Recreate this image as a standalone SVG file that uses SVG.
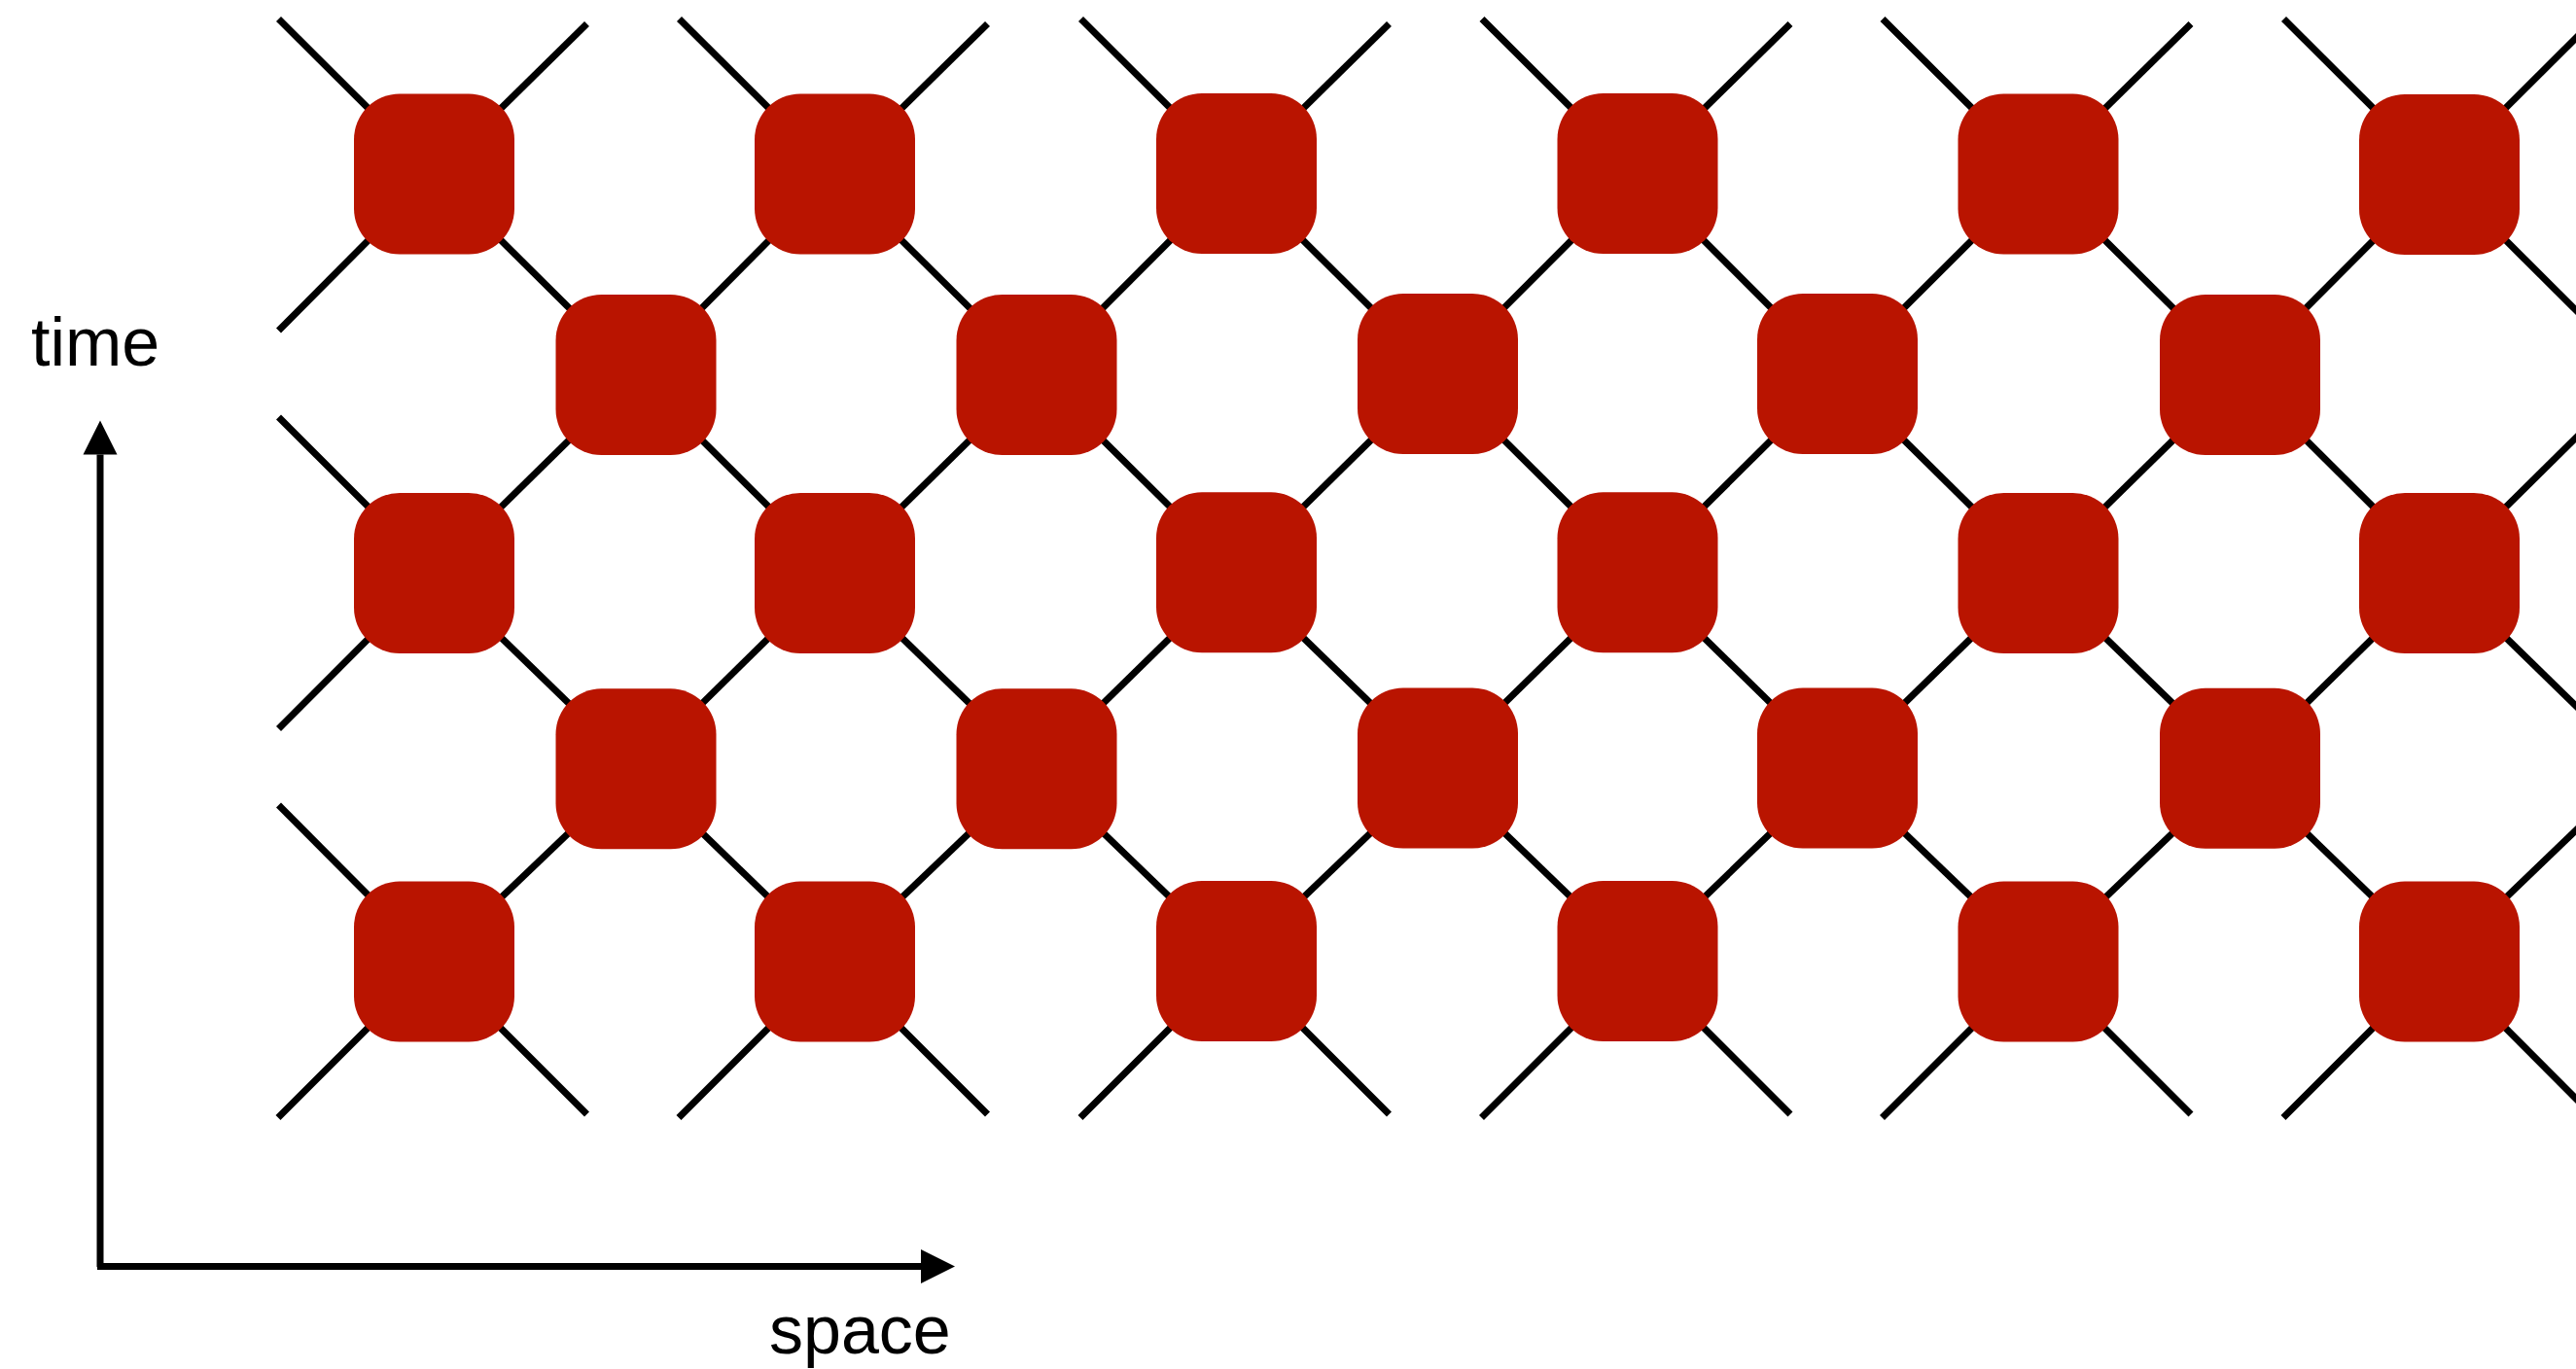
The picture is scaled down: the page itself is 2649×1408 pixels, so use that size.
<svg xmlns="http://www.w3.org/2000/svg" width="2649" height="1408" viewBox="0 0 2649 1408">
<style>
.c{stroke:#000;stroke-width:7;fill:none;stroke-linecap:butt}
.n{fill:#B91400}
.t{font-family:"Liberation Sans",Arial,Helvetica,sans-serif;font-size:70px;fill:#000}
</style>
<defs>
<marker id="ah" markerUnits="userSpaceOnUse" markerWidth="36" markerHeight="36" refX="0" refY="17.5" orient="auto" viewBox="0 0 36 35">
<path d="M0,0 L35,17.5 L0,35 Z" fill="#000"/>
</marker>
<rect id="node" x="-82.5" y="-82.5" width="165" height="165" rx="47" ry="47"/>
</defs>
<rect width="2649" height="1408" fill="#fff"/>
<g id="connectors" class="c">
<!-- top stubs -->
<line x1="446.5" y1="179" x2="286.5" y2="19.5"/><line x1="446.5" y1="179" x2="603.5" y2="24.5"/>
<line x1="858.5" y1="179" x2="698.5" y2="19.5"/><line x1="858.5" y1="179" x2="1015.5" y2="24.5"/>
<line x1="1271.5" y1="179" x2="1111.5" y2="19.5"/><line x1="1271.5" y1="179" x2="1428.5" y2="24.5"/>
<line x1="1684" y1="179" x2="1524" y2="19.5"/><line x1="1684" y1="179" x2="1841" y2="24.5"/>
<line x1="2096" y1="179" x2="1936" y2="19.5"/><line x1="2096" y1="179" x2="2253" y2="24.5"/>
<line x1="2508.5" y1="179" x2="2348.5" y2="19.5"/><line x1="2508.5" y1="179" x2="2668.5" y2="19.5"/>
<!-- bottom stubs -->
<line x1="446.5" y1="989" x2="286" y2="1149.5"/><line x1="446.5" y1="989" x2="603.5" y2="1146"/>
<line x1="858.5" y1="989" x2="698" y2="1149.5"/><line x1="858.5" y1="989" x2="1015.5" y2="1146"/>
<line x1="1271.5" y1="989" x2="1111" y2="1149.5"/><line x1="1271.5" y1="989" x2="1428.5" y2="1146"/>
<line x1="1684" y1="989" x2="1523.5" y2="1149.5"/><line x1="1684" y1="989" x2="1841" y2="1146"/>
<line x1="2096" y1="989" x2="1935.5" y2="1149.5"/><line x1="2096" y1="989" x2="2253" y2="1146"/>
<line x1="2508.5" y1="989" x2="2348" y2="1149.5"/><line x1="2508.5" y1="989" x2="2668.5" y2="1149.5"/>
<!-- left stubs -->
<line x1="446.5" y1="179" x2="286.5" y2="340"/>
<line x1="446.5" y1="589" x2="286.5" y2="429"/>
<line x1="446.5" y1="589" x2="286.5" y2="749.5"/>
<line x1="446.5" y1="989" x2="286.5" y2="828"/>
<!-- right edge -->
<line x1="2508.5" y1="179" x2="2715" y2="385"/>
<line x1="2508.5" y1="589" x2="2715" y2="385"/>
<line x1="2508.5" y1="589" x2="2715" y2="790.5"/>
<line x1="2508.5" y1="989" x2="2715" y2="790.5"/>
<!-- row 2 links -->
<line x1="654" y1="385" x2="446.5" y2="179"/><line x1="654" y1="385" x2="858.5" y2="179"/><line x1="654" y1="385" x2="446.5" y2="589"/><line x1="654" y1="385" x2="858.5" y2="589"/>
<line x1="1066" y1="385" x2="858.5" y2="179"/><line x1="1066" y1="385" x2="1271.5" y2="179"/><line x1="1066" y1="385" x2="858.5" y2="589"/><line x1="1066" y1="385" x2="1271.5" y2="589"/>
<line x1="1478.5" y1="385" x2="1271.5" y2="179"/><line x1="1478.5" y1="385" x2="1684" y2="179"/><line x1="1478.5" y1="385" x2="1271.5" y2="589"/><line x1="1478.5" y1="385" x2="1684" y2="589"/>
<line x1="1889.5" y1="385" x2="1684" y2="179"/><line x1="1889.5" y1="385" x2="2096" y2="179"/><line x1="1889.5" y1="385" x2="1684" y2="589"/><line x1="1889.5" y1="385" x2="2096" y2="589"/>
<line x1="2303.5" y1="385" x2="2096" y2="179"/><line x1="2303.5" y1="385" x2="2508.5" y2="179"/><line x1="2303.5" y1="385" x2="2096" y2="589"/><line x1="2303.5" y1="385" x2="2508.5" y2="589"/>
<!-- row 4 links -->
<line x1="654" y1="790.5" x2="446.5" y2="589"/><line x1="654" y1="790.5" x2="858.5" y2="589"/><line x1="654" y1="790.5" x2="446.5" y2="989"/><line x1="654" y1="790.5" x2="858.5" y2="989"/>
<line x1="1066" y1="790.5" x2="858.5" y2="589"/><line x1="1066" y1="790.5" x2="1271.5" y2="589"/><line x1="1066" y1="790.5" x2="858.5" y2="989"/><line x1="1066" y1="790.5" x2="1271.5" y2="989"/>
<line x1="1478.5" y1="790.5" x2="1271.5" y2="589"/><line x1="1478.5" y1="790.5" x2="1684" y2="589"/><line x1="1478.5" y1="790.5" x2="1271.5" y2="989"/><line x1="1478.5" y1="790.5" x2="1684" y2="989"/>
<line x1="1889.5" y1="790.5" x2="1684" y2="589"/><line x1="1889.5" y1="790.5" x2="2096" y2="589"/><line x1="1889.5" y1="790.5" x2="1684" y2="989"/><line x1="1889.5" y1="790.5" x2="2096" y2="989"/>
<line x1="2303.5" y1="790.5" x2="2096" y2="589"/><line x1="2303.5" y1="790.5" x2="2508.5" y2="589"/><line x1="2303.5" y1="790.5" x2="2096" y2="989"/><line x1="2303.5" y1="790.5" x2="2508.5" y2="989"/>
</g>
<g id="nodes" class="n">
<use id="n1-1" href="#node" x="446.5" y="179"/>
<use id="n1-2" href="#node" x="858.5" y="179"/>
<use id="n1-3" href="#node" x="1271.5" y="178.5"/>
<use id="n1-4" href="#node" x="1684" y="178.5"/>
<use id="n1-5" href="#node" x="2096" y="179"/>
<use id="n1-6" href="#node" x="2508.5" y="179.5"/>
<use id="n2-1" href="#node" x="654" y="385.5"/>
<use id="n2-2" href="#node" x="1066" y="385.5"/>
<use id="n2-3" href="#node" x="1478.5" y="384.5"/>
<use id="n2-4" href="#node" x="1889.5" y="384.5"/>
<use id="n2-5" href="#node" x="2303.5" y="385.5"/>
<use id="n3-1" href="#node" x="446.5" y="589.5"/>
<use id="n3-2" href="#node" x="858.5" y="589.5"/>
<use id="n3-3" href="#node" x="1271.5" y="588.8"/>
<use id="n3-4" href="#node" x="1684" y="588.8"/>
<use id="n3-5" href="#node" x="2096" y="589.5"/>
<use id="n3-6" href="#node" x="2508.5" y="589.5"/>
<use id="n4-1" href="#node" x="654" y="790.8"/>
<use id="n4-2" href="#node" x="1066" y="790.8"/>
<use id="n4-3" href="#node" x="1478.5" y="790"/>
<use id="n4-4" href="#node" x="1889.5" y="790"/>
<use id="n4-5" href="#node" x="2303.5" y="790.3"/>
<use id="n5-1" href="#node" x="446.5" y="989"/>
<use id="n5-2" href="#node" x="858.5" y="989"/>
<use id="n5-3" href="#node" x="1271.5" y="988.5"/>
<use id="n5-4" href="#node" x="1684" y="988.5"/>
<use id="n5-5" href="#node" x="2096" y="989"/>
<use id="n5-6" href="#node" x="2508.5" y="989"/>
</g>
<g id="axes" class="c">
<line x1="103" y1="1303" x2="103" y2="467.5" marker-end="url(#ah)"/>
<line x1="100" y1="1302.5" x2="947" y2="1302.5" marker-end="url(#ah)"/>
</g>
<g id="labels" class="t">
<text x="32" y="376">time</text>
<text x="791" y="1392">space</text>
</g>
</svg>
